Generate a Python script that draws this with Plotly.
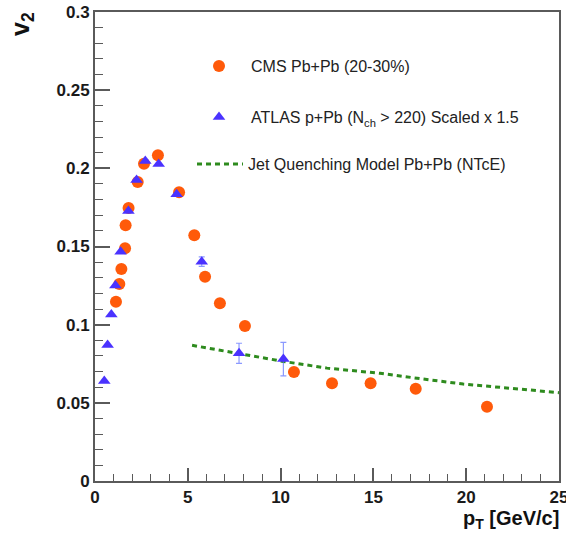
import plotly.graph_objects as go

# CMS Pb+Pb (20-30%)
cms_pt = [1.13, 1.31, 1.42, 1.62, 1.65, 1.81, 2.30, 2.64, 3.39, 4.53, 5.35, 5.93, 6.73, 8.08, 10.72, 12.77, 14.85, 17.28, 21.12]
cms_v2 = [0.1147, 0.126, 0.1356, 0.1489, 0.1636, 0.1747, 0.1913, 0.203, 0.2084, 0.1847, 0.1572, 0.1307, 0.1137, 0.0992, 0.0697, 0.0625, 0.0625, 0.059, 0.0475]

# ATLAS p+Pb (Nch > 220) scaled x1.5
atlas_pt = [0.50, 0.68, 0.88, 1.10, 1.38, 1.80, 2.24, 2.71, 3.43, 4.40, 5.75, 7.76, 10.15]
atlas_v2 = [0.064, 0.087, 0.1065, 0.125, 0.1467, 0.1727, 0.1926, 0.2047, 0.2028, 0.1834, 0.1403, 0.0817, 0.078]
atlas_err = [0.0, 0.0, 0.0, 0.0, 0.0, 0.0, 0.0, 0.0, 0.0, 0.0, 0.003, 0.0064, 0.0107]

# Jet quenching model Pb+Pb (NTcE)
jq_pt = [5.23, 7.76, 10.15, 12.5, 15.36, 17.5, 19.84, 22.5, 25.0]
jq_v2 = [0.0868, 0.0815, 0.0765, 0.0722, 0.0689, 0.0655, 0.062, 0.0592, 0.0565]

x_ticks = [0, 5, 10, 15, 20, 25]
y_ticks = [0, 0.05, 0.1, 0.15, 0.2, 0.25, 0.3]

W, H = 566, 542
ML, MR, MT, MB = 95, 7, 12, 61
PW, PH = W - ML - MR, H - MT - MB
FONT = "Liberation Sans, Arial, Helvetica, sans-serif"
AXC = "#5a5a5a"


def px(xp):
    return (xp - ML) / PW


def py(yp):
    return (H - MB - yp) / PH


fig = go.Figure()

fig.add_trace(go.Scatter(
    x=jq_pt, y=jq_v2, mode="lines",
    name="Jet Quenching Model Pb+Pb (NTcE)",
    line=dict(color="#2e8b1e", width=3, dash="5px,4px"),
    legend="legend3",
))

fig.add_trace(go.Scatter(
    x=cms_pt, y=cms_v2, mode="markers",
    name="CMS Pb+Pb (20-30%)",
    marker=dict(symbol="circle", size=12, color="#ff5a0a"),
    legend="legend",
))

fig.add_trace(go.Scatter(
    x=atlas_pt, y=atlas_v2, mode="markers",
    name="ATLAS p+Pb (N<sub>ch</sub> > 220) Scaled x 1.5",
    marker=dict(symbol="triangle-up", size=11, color="#4a32ff"),
    error_y=dict(type="data", array=atlas_err, visible=True,
                 color="rgba(90,110,255,0.7)", thickness=1.2, width=3),
    legend="legend2",
))

legend_common = dict(
    xref="paper", yref="paper", xanchor="left", yanchor="middle",
    font=dict(family=FONT, size=16, color="#222222"),
    bgcolor="rgba(0,0,0,0)",
)

fig.update_layout(
    width=W, height=H,
    margin=dict(l=ML, r=MR, t=MT, b=MB, autoexpand=False),
    paper_bgcolor="white", plot_bgcolor="white",
    font=dict(family=FONT),
    showlegend=True,
    legend=dict(x=px(187), y=py(66), itemwidth=54, **legend_common),
    legend2=dict(x=px(187), y=py(117), itemwidth=54, **legend_common),
    legend3=dict(x=px(192), y=py(164), itemwidth=46, **legend_common),
    xaxis=dict(
        range=[0, 25], showgrid=False, zeroline=False,
        showline=True, linecolor=AXC, linewidth=2, mirror=True,
        ticks="inside", ticklen=13, tickwidth=1.5, tickcolor=AXC,
        tickvals=x_ticks, ticktext=[str(v) for v in x_ticks],
        ticklabeloverflow="allow",
        tickfont=dict(family=FONT, size=17, color="#1a1a1a", weight="bold"),
        minor=dict(ticks="inside", ticklen=7, tickwidth=1.2, tickcolor=AXC, dtick=1),
    ),
    yaxis=dict(
        range=[0, 0.3], showgrid=False, zeroline=False,
        showline=True, linecolor=AXC, linewidth=2, mirror=True,
        ticks="inside", ticklen=15, tickwidth=1.5, tickcolor=AXC,
        tickvals=y_ticks, ticktext=["0", "0.05", "0.1", "0.15", "0.2", "0.25", "0.3"],
        ticklabeloverflow="allow",
        tickfont=dict(family=FONT, size=17, color="#1a1a1a", weight="bold"),
        minor=dict(ticks="inside", ticklen=8, tickwidth=1.2, tickcolor=AXC, dtick=0.01),
    ),
    annotations=[
        dict(text="v<sub>2</sub>", xref="paper", yref="paper", x=px(22), y=py(10),
             xanchor="center", yanchor="top", textangle=-90, showarrow=False,
             font=dict(family=FONT, size=25, color="#111111", weight="bold")),
        dict(text="p<sub>T</sub> [GeV/c]", xref="paper", yref="paper", x=px(561), y=py(505),
             xanchor="right", yanchor="top", showarrow=False,
             font=dict(family=FONT, size=20, color="#111111", weight="bold")),
    ],
)

fig.write_html("out.html")
